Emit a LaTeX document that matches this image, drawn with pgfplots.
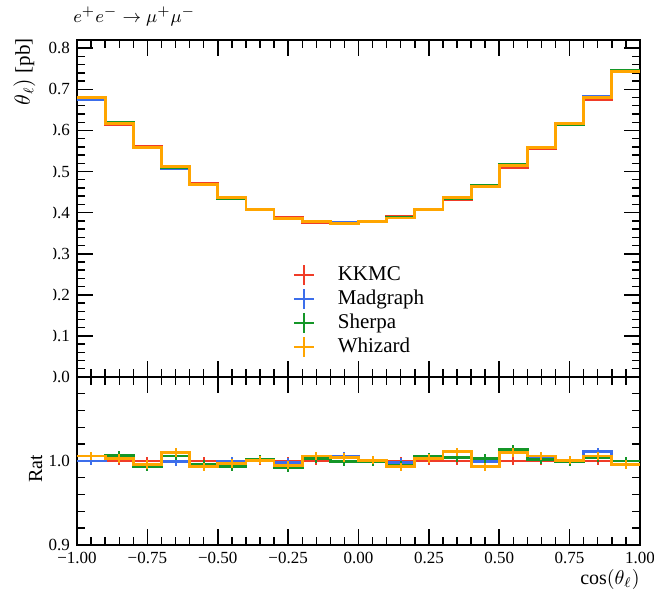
\documentclass[border=0pt]{standalone}
\usepackage{fontspec}
\setmainfont{Liberation Serif}
\usepackage{pgfplots}
\usepackage{pgfplotstable}
\pgfplotsset{compat=1.18}

\definecolor{kkmc}{RGB}{240,60,40}
\definecolor{mgc}{RGB}{60,110,235}
\definecolor{shc}{RGB}{20,150,40}
\definecolor{wzc}{RGB}{255,165,0}

% differential cross section, left bin edges (last row repeats the last bin)
\pgfplotstableread{
lo    kk    mg    sh    wz
-1.0  0.676 0.676 0.680 0.680
-0.9  0.615 0.619 0.619 0.617
-0.8  0.561 0.558 0.557 0.559
-0.7  0.507 0.506 0.510 0.512
-0.6  0.471 0.469 0.469 0.468
-0.5  0.437 0.437 0.434 0.436
-0.4  0.407 0.407 0.408 0.407
-0.3  0.388 0.387 0.385 0.386
-0.2  0.376 0.377 0.377 0.378
-0.1  0.373 0.375 0.373 0.374
 0.0  0.378 0.378 0.378 0.378
 0.1  0.390 0.389 0.388 0.387
 0.2  0.407 0.409 0.409 0.408
 0.3  0.432 0.437 0.434 0.437
 0.4  0.466 0.466 0.467 0.463
 0.5  0.510 0.515 0.517 0.515
 0.6  0.556 0.558 0.557 0.559
 0.7  0.615 0.615 0.614 0.616
 0.8  0.676 0.683 0.679 0.680
 0.9  0.746 0.746 0.746 0.743
 1.0  0.746 0.746 0.746 0.743
}\xsec

% ratio to KKMC
\pgfplotstableread{
lo    c     kk    mg    sh    wz    e
-1.0 -0.95  1.000 1.000 1.006 1.006 0.005
-0.9 -0.85  1.000 1.007 1.007 1.003 0.005
-0.8 -0.75  1.000 0.995 0.993 0.996 0.005
-0.7 -0.65  1.000 0.999 1.006 1.010 0.005
-0.6 -0.55  1.000 0.996 0.996 0.993 0.005
-0.5 -0.45  1.000 1.000 0.993 0.997 0.005
-0.4 -0.35  1.000 1.001 1.002 1.001 0.005
-0.3 -0.25  1.000 0.998 0.992 0.995 0.005
-0.2 -0.15  1.000 1.003 1.003 1.006 0.005
-0.1 -0.05  1.000 1.006 0.999 1.004 0.005
 0.0  0.05  1.000 1.000 0.999 1.001 0.005
 0.1  0.15  1.000 0.998 0.995 0.993 0.005
 0.2  0.25  1.000 1.004 1.005 1.003 0.005
 0.3  0.35  1.000 1.011 1.004 1.011 0.005
 0.4  0.45  1.000 0.999 1.003 0.993 0.005
 0.5  0.55  1.000 1.010 1.014 1.010 0.005
 0.6  0.65  1.000 1.003 1.002 1.006 0.005
 0.7  0.75  1.000 1.000 0.999 1.001 0.005
 0.8  0.85  1.000 1.011 1.004 1.006 0.005
 0.9  0.95  1.000 1.000 1.000 0.996 0.005
 1.0  1.05  1.000 1.000 1.000 0.996 0.0
}\ratio

\pgfplotsset{
  panel/.style={
    scale only axis, width=281.5pt,
    xmin=-1, xmax=1,
    xtick={-1,-0.75,-0.5,-0.25,0,0.25,0.5,0.75,1},
    minor x tick num=4,
    tick align=inside,
    major tick length=8pt, minor tick length=4pt,
    axis line style={line width=1pt},
    every tick/.style={black, line width=0.8pt},
    every minor tick/.style={black, line width=0.7pt},
    ticklabel style={font=\fontsize{8.5}{10}\selectfont},
  },
  hist/.style={const plot, line width=1.4pt, forget plot},
  ebar/.style={draw=none, mark=none,
    error bars/.cd, y dir=both, y explicit, error mark=none,
    error bar style={line width=1pt, draw=#1}},
}

\begin{document}
\begin{tikzpicture}
\useasboundingbox (0,0) rectangle (327pt,294.5pt);

\begin{axis}[panel,
  at={(38.5pt,106pt)}, anchor=south west, height=168.5pt,
  ymin=0, ymax=0.82,
  ytick={0,0.1,0.2,0.3,0.4,0.5,0.6,0.7,0.8},
  yticklabels={0.0,0.1,0.2,0.3,0.4,0.5,0.6,0.7,0.8},
  minor y tick num=4,
  xticklabels={},
  legend style={draw=none, fill=none, at={(0.372,0.352)}, anchor=north west,
    font=\fontsize{10.5}{12}\selectfont, row sep=-0.8pt, cells={anchor=west},
    /tikz/every odd column/.append style={column sep=7pt}},
  legend image code/.code={
    \draw[#1, line width=1pt] (-5pt,0)--(5pt,0) (0,-5pt)--(0,5pt);
    \path[draw=none] (0,0)--(8pt,0);},
]
\addplot[hist, kkmc] table[x=lo, y=kk]{\xsec};
\addplot[hist, mgc] table[x=lo, y=mg]{\xsec};
\addplot[hist, shc] table[x=lo, y=sh]{\xsec};
\addplot[hist, wzc] table[x=lo, y=wz]{\xsec};
\addlegendimage{kkmc}
\addlegendentry{KKMC}
\addlegendimage{mgc}
\addlegendentry{Madgraph}
\addlegendimage{shc}
\addlegendentry{Sherpa}
\addlegendimage{wzc}
\addlegendentry{Whizard}
\end{axis}

\begin{axis}[panel,
  at={(38.5pt,22pt)}, anchor=south west, height=84pt,
  ymin=0.9, ymax=1.1,
  ytick={0.9,1.0,1.1}, yticklabels={0.9,1.0,{}},
  minor y tick num=4,
  xticklabels={−1.00,−0.75,−0.50,−0.25,0.00,0.25,0.50,0.75,1.00},
]
\addplot[hist, kkmc] table[x=lo, y=kk]{\ratio};
\addplot[ebar=kkmc] table[x=c, y=kk, y error=e]{\ratio};
\addplot[hist, mgc] table[x=lo, y=mg]{\ratio};
\addplot[ebar=mgc] table[x=c, y=mg, y error=e]{\ratio};
\addplot[hist, shc] table[x=lo, y=sh]{\ratio};
\addplot[ebar=shc] table[x=c, y=sh, y error=e]{\ratio};
\addplot[hist, wzc] table[x=lo, y=wz]{\ratio};
\addplot[ebar=wzc] table[x=c, y=wz, y error=e]{\ratio};
\end{axis}

\node[rotate=90, anchor=base east, inner sep=0pt, font=\fontsize{10.5}{13}\selectfont]
  at (15pt,275.5pt) {$\mathrm{d}\sigma/\mathrm{d}\cos(\theta_\ell)$ [pb]};
\node[rotate=90, anchor=base west, inner sep=0pt, font=\fontsize{10}{12}\selectfont]
  at (21pt,53pt) {Ratio};
\fill[white] (0,242.5pt) rectangle (26.5pt,67pt);
\node[anchor=base west, inner sep=0pt, font=\fontsize{9.5}{11}\selectfont]
  at (36.5pt,283pt) {$e^+e^-\rightarrow\mu^+\mu^-$};
\node[anchor=base east, inner sep=0pt, font=\fontsize{10}{12}\selectfont]
  at (320pt,2pt) {$\cos(\theta_\ell)$};
\end{tikzpicture}
\end{document}
